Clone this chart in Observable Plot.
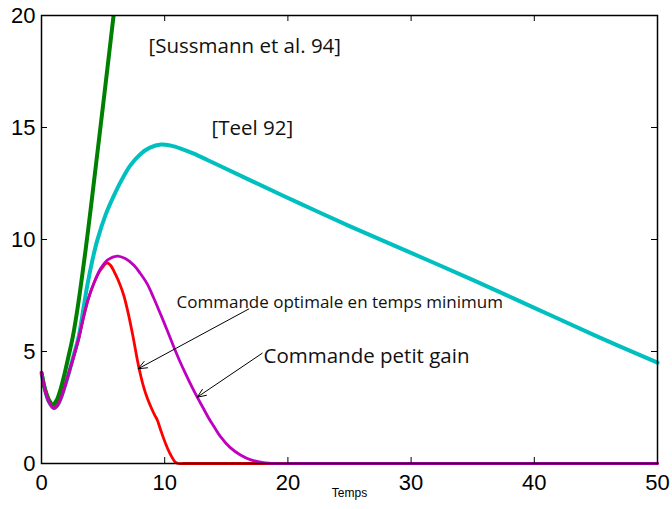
<!DOCTYPE html>
<html>
<head>
<meta charset="utf-8">
<script src="https://cdn.jsdelivr.net/npm/d3@7"></script>
<script src="https://cdn.jsdelivr.net/npm/@observablehq/plot@0.6"></script>
<style>
  html, body { margin: 0; padding: 0; background: #fff; }
  #chart svg { display: block; }
</style>
</head>
<body>
<div id="chart"></div>
<script>
// Sussmann et al. 94 (green)
const greenT = [0, 0.3, 0.6, 0.95, 1.25, 1.54, 1.85, 2.2, 2.54, 3.0, 3.57, 4.0, 4.5, 5.0, 5.5, 5.85, 6.2];
const greenY = [4.05, 3.3, 2.85, 2.63, 2.85, 3.3, 3.95, 4.8, 5.65, 7.2, 9.5, 11.4, 13.7, 16.0, 18.35, 20, 21.7];
// Teel 92 (cyan)
const cyanT = [0, 0.3, 0.6, 1.0, 1.3, 1.6, 1.9, 2.2, 2.6, 3.03, 3.4, 3.7, 4.1, 4.52, 5.2, 5.87, 6.5, 7.2, 8.0, 8.8, 9.7, 10.5, 11.3, 12.36, 13.5, 14.5, 17, 21, 25, 30, 35, 40, 45, 50];
const cyanY = [4.05, 3.25, 2.75, 2.47, 2.6, 2.95, 3.45, 4.0, 4.8, 5.7, 6.9, 7.9, 9.0, 9.95, 11.1, 11.95, 12.65, 13.3, 13.8, 14.1, 14.24, 14.19, 14.06, 13.83, 13.54, 13.28, 12.63, 11.6, 10.6, 9.4, 8.2, 6.95, 5.7, 4.5];
// Commande optimale en temps minimum (red)
const redT = [0, 0.3, 0.6, 1.0, 1.3, 1.6, 1.9, 2.2, 2.6, 3.03, 3.4, 3.8, 4.25, 4.8, 5.33, 5.6, 6.0, 6.4, 6.68, 7.0, 7.4, 7.9, 8.3, 8.6, 8.98, 9.2, 9.39, 9.7, 10.1, 10.47, 10.88, 11.1, 11.5, 12, 14, 17, 20, 25, 30, 35, 40, 45, 50];
const redY = [4.05, 3.25, 2.75, 2.47, 2.6, 2.95, 3.45, 4.0, 4.75, 5.6, 6.5, 7.35, 8.05, 8.65, 8.96, 8.85, 8.45, 7.95, 7.5, 6.8, 5.75, 4.3, 3.4, 2.9, 2.4, 2.15, 1.95, 1.45, 0.85, 0.4, 0.05, 0, 0, 0, 0, 0, 0, 0, 0, 0, 0, 0, 0];
// Commande petit gain (magenta)
const magT = [0, 0.3, 0.6, 1.0, 1.3, 1.6, 1.9, 2.2, 2.6, 3.03, 3.4, 3.8, 4.25, 4.8, 5.4, 6.14, 6.8, 7.5, 8.0, 8.58, 9.1, 9.6, 10.2, 10.74, 11.2, 11.7, 12.2, 12.64, 13.1, 13.6, 14.0, 14.53, 15.3, 16.15, 17, 18, 19, 20, 21, 23, 25, 30, 35, 40, 45, 50];
const magY = [4.05, 3.25, 2.75, 2.47, 2.6, 2.95, 3.45, 4.0, 4.75, 5.6, 6.5, 7.35, 8.05, 8.7, 9.1, 9.26, 9.15, 8.85, 8.5, 8.02, 7.4, 6.75, 5.95, 5.2, 4.6, 4.0, 3.43, 2.96, 2.5, 2.0, 1.65, 1.2, 0.72, 0.38, 0.16, 0.04, 0, 0, 0, 0, 0, 0, 0, 0, 0, 0];

const xTicks = [0, 10, 20, 30, 40, 50];
const yTicks = [0, 5, 10, 15, 20];

// annotations
const labelTexts = ["[Sussmann et al. 94]", "[Teel 92]", "Commande optimale en temps minimum", "Commande petit gain"];
const labelX = [8.69, 13.8, 10.96, 18.02];
const labelY = [18.62, 14.96, 7.19, 4.78];
const labelSize = [20.5, 20.5, 17, 20.5];
const arrowX1 = [16.83, 17.91];
const arrowY1 = [6.9, 4.92];
const arrowX2 = [7.85, 12.64];
const arrowY2 = [4.23, 2.96];

const zip = (t, y) => t.map((v, i) => ({t: v, y: y[i]}));
const green = zip(greenT, greenY);
const cyan = zip(cyanT, cyanY);
const red = zip(redT, redY);
const mag = zip(magT, magY);
const labels = labelTexts.map((s, i) => ({s, x: labelX[i], y: labelY[i], size: labelSize[i]}));
const arrows = arrowX1.map((v, i) => ({x1: v, y1: arrowY1[i], x2: arrowX2[i], y2: arrowY2[i]}));

const W = 672, H = 509;
const mL = 41, mR = 15, mT = 15, mB = 46;
const fw = W - mL - mR, fh = H - mT - mB;
const tl = 6;
const labelFont = "'Open Sans', Lato, sans-serif";
const curve = "catmull-rom";

const chart = Plot.plot({
  width: W,
  height: H,
  marginLeft: mL,
  marginRight: mR,
  marginTop: mT,
  marginBottom: mB,
  style: {fontFamily: "'Liberation Sans', Arial, sans-serif", color: "#000", background: "#fff"},
  x: {domain: [0, 50]},
  y: {domain: [0, 20]},
  marks: [
    Plot.line(cyan, {x: "t", y: "y", stroke: "#00bfbf", strokeWidth: 4, curve}),
    Plot.line(green, {x: "t", y: "y", stroke: "#008000", strokeWidth: 4, curve, clip: true}),
    Plot.line(red, {x: "t", y: "y", stroke: "#ff0000", strokeWidth: 2.8, curve}),
    Plot.line(mag, {x: "t", y: "y", stroke: "#bf00bf", strokeWidth: 2.8, curve}),
    Plot.frame({stroke: "#000", strokeWidth: 1.5}),
    Plot.tickX(xTicks, {x: d => d, insetTop: fh - tl, stroke: "#000"}),
    Plot.tickX(xTicks, {x: d => d, insetBottom: fh - tl, stroke: "#000"}),
    Plot.tickY(yTicks, {y: d => d, insetRight: fw - tl, stroke: "#000"}),
    Plot.tickY(yTicks, {y: d => d, insetLeft: fw - tl, stroke: "#000"}),
    Plot.axisX({ticks: xTicks, tickSize: 0, tickPadding: 11, fontSize: 22, label: null}),
    Plot.axisY({ticks: yTicks, tickSize: 0, tickPadding: 6, fontSize: 22, label: null}),
    Plot.text(["Temps"], {frameAnchor: "bottom", dy: 33, fontSize: 12, text: d => d, fill: "#000"}),
    Plot.arrow(arrows, {x1: "x1", y1: "y1", x2: "x2", y2: "y2", stroke: "#000", strokeWidth: 1, headLength: 14, headAngle: 45}),
    ...labels.map(l => Plot.text([l], {x: "x", y: "y", text: "s", textAnchor: "start", fontSize: l.size, fontFamily: labelFont, fill: "#111"}))
  ]
});
document.getElementById("chart").appendChild(chart);
</script>
</body>
</html>
